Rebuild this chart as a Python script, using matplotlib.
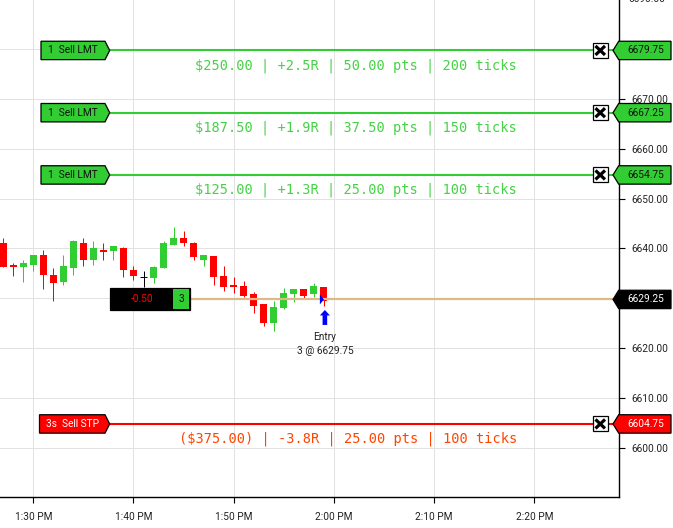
import matplotlib
matplotlib.use('Agg')
import matplotlib.pyplot as plt
from matplotlib.patches import Polygon, Rectangle
from matplotlib.transforms import IdentityTransform

plt.rcParams['font.family'] = ['Roboto', 'DejaVu Sans']

# minutes after 1:00 PM
minutes = list(range(27, 60))
opens = [6641.0, 6636.75, 6636.25, 6636.75, 6638.75, 6634.75, 6633.25, 6636.0, 6641.0, 6637.75, 6639.75,
         6639.5, 6640.0, 6635.75, 6634.25, 6634.0, 6636.0, 6640.75, 6642.0, 6641.0, 6637.75, 6638.5,
         6634.5, 6632.75, 6632.5, 6630.75, 6628.75, 6625.0, 6628.0, 6630.75, 6631.75, 6630.75, 6632.25]
highs = [6642.0, 6637.0, 6637.75, 6638.75, 6639.75, 6636.0, 6638.75, 6641.75, 6642.0, 6641.5, 6641.0,
         6640.5, 6640.25, 6636.5, 6635.5, 6636.5, 6641.5, 6644.25, 6643.5, 6641.25, 6638.75, 6638.5,
         6636.5, 6634.25, 6633.5, 6631.25, 6628.75, 6629.5, 6632.0, 6631.75, 6631.75, 6633.0, 6632.25]
lows = [6636.25, 6634.5, 6633.25, 6635.5, 6631.75, 6629.5, 6632.75, 6634.75, 6636.5, 6636.75, 6637.75,
        6637.75, 6634.25, 6633.75, 6632.25, 6633.0, 6636.0, 6640.75, 6640.5, 6637.75, 6636.5, 6632.75,
        6631.5, 6631.0, 6630.25, 6627.0, 6624.5, 6623.5, 6627.75, 6629.25, 6629.75, 6630.25, 6628.5]
closes = [6636.25, 6636.25, 6637.0, 6638.75, 6634.75, 6633.0, 6636.5, 6641.5, 6637.75, 6640.0, 6639.25,
          6640.5, 6635.75, 6634.5, 6634.25, 6636.25, 6641.0, 6642.0, 6641.0, 6638.25, 6638.75, 6634.25,
          6632.25, 6632.25, 6630.5, 6628.5, 6625.0, 6628.25, 6631.0, 6631.75, 6630.5, 6632.5, 6629.5]

x_ticks = [30, 40, 50, 60, 70, 80]
x_labels = ['1:30 PM', '1:40 PM', '1:50 PM', '2:00 PM', '2:10 PM', '2:20 PM']
y_ticks = [6600, 6610, 6620, 6630, 6640, 6650, 6660, 6670, 6680]
# 6630 and 6680 sit under the price tags
y_labels = ['6600.00', '6610.00', '6620.00', '', '6640.00', '6650.00', '6660.00', '6670.00', '']

target_prices = [6679.75, 6667.25, 6654.75]
target_names = ['1  Sell LMT', '1  Sell LMT', '1  Sell LMT']
target_labels = ['$250.00 | +2.5R | 50.00 pts | 200 ticks',
                 '$187.50 | +1.9R | 37.50 pts | 150 ticks',
                 '$125.00 | +1.3R | 25.00 pts | 100 ticks']
stop_price = 6604.75
stop_name = '3s  Sell STP'
stop_label = '($375.00) | -3.8R | 25.00 pts | 100 ticks'
entry_price = 6629.75
position_tag = '6629.25'
pnl_text = '-0.50'
qty_text = '3'
entry_minute = 59

GREEN = '#32cd32'
RED = '#ff0000'
TAN = '#deb887'
W, H = 673, 528
FS = 7.3

fig = plt.figure(figsize=(W / 100, H / 100), dpi=100)
ax = fig.add_axes([0, 31 / H, 619 / W, 497 / H])
ax.set_xlim(26.68, 88.45)
ax.set_ylim(6590.08, 6689.88)
for s in ['left', 'top']:
    ax.spines[s].set_visible(False)
for s in ['right', 'bottom']:
    ax.spines[s].set_linewidth(1.0)

ax.yaxis.tick_right()
ax.set_xticks(x_ticks, x_labels)
ax.set_yticks(y_ticks, y_labels)
ax.tick_params(axis='both', length=4, width=0.8, labelsize=FS, labelcolor='#222222')
ax.tick_params(axis='x', pad=7)
ax.tick_params(axis='y', pad=5)
ax.grid(True, color='#e2e2e2', linewidth=0.72)
ax.set_axisbelow(True)


def cy(price):
    return ax.transData.transform((0, price))[1]


def cx(minute):
    return ax.transData.transform((minute, 0))[0]


def px_patch(points, **kw):
    p = Polygon(points, closed=True, transform=IdentityTransform(), clip_on=False, **kw)
    ax.add_patch(p)
    return p


def px_text(x, y, s, **kw):
    ax.text(x, y, s, transform=IdentityTransform(), clip_on=False, va='center', zorder=8, **kw)


def px_line(xs, ys, color, lw, z=4):
    ax.plot(xs, ys, color=color, lw=lw, transform=IdentityTransform(), clip_on=False, zorder=z,
            solid_capstyle='butt')


# candles
for m, o, h, l, c in zip(minutes, opens, highs, lows, closes):
    color = GREEN if c > o else RED if c < o else 'black'
    ax.plot([m, m], [l, h], color=color, lw=0.72, zorder=3, solid_capstyle='butt', snap=True)
    if c == o:
        ax.plot([m - 0.35, m + 0.35], [o, o], color=color, lw=0.72, zorder=3, solid_capstyle='butt', snap=True)
    else:
        ax.bar(m, abs(c - o), bottom=min(o, c), width=0.7, color=color, linewidth=0, zorder=3)


def right_tag(price, text, fill, color):
    y = cy(price)
    px_patch([(613, y), (618.7, y + 9.2), (671, y + 9.2), (671, y - 9.2), (618.7, y - 9.2)],
             facecolor=fill, edgecolor='black', linewidth=0.9, zorder=6)
    px_text(646, y, text, color=color, fontsize=FS, ha='center')


def close_box(y):
    ax.add_patch(Rectangle((592.5, y - 7.5), 15.5, 15, transform=IdentityTransform(), clip_on=False,
                           facecolor='white', edgecolor='black', linewidth=0.9, zorder=6))
    px_line([595.5, 605], [y - 4.5, y + 4.5], 'black', 2.3, 7)
    px_line([595.5, 605], [y + 4.5, y - 4.5], 'black', 2.3, 7)


def order_row(price, name, label, color, tcolor, name_color, left, name_x, label_right):
    y = cy(price)
    px_line([109, 613], [y, y], color, 1.5)
    px_patch([(left, y + 9.2), (105, y + 9.2), (109.7, y), (105, y - 9.2), (left, y - 9.2)],
             facecolor=color, edgecolor='black', linewidth=0.9, zorder=6)
    px_text(name_x, y, name, color=name_color, fontsize=FS, ha='left')
    close_box(y)
    right_tag(price, f'{price:.2f}', color, 'white' if color == RED else '#111111')
    px_text(label_right, y - 15, label, color=tcolor, fontsize=9.85, ha='right', family='DejaVu Sans Mono')


for price, name, label in zip(target_prices, target_names, target_labels):
    order_row(price, name, label, GREEN, '#46d246', '#111111', 41, 48, 517)
order_row(stop_price, stop_name, stop_label, RED, '#ff4500', 'white', 39.5, 46, 517)

# position line and pnl box
yp = cy(entry_price)
px_line([190, 613], [yp, yp], TAN, 1.6)
ax.add_patch(Rectangle((110, yp - 11), 80, 22, transform=IdentityTransform(), clip_on=False,
                       facecolor='black', edgecolor='black', linewidth=0.9, zorder=6))
ax.add_patch(Rectangle((173, yp - 10), 16.3, 20, transform=IdentityTransform(), clip_on=False,
                       facecolor=GREEN, edgecolor='none', zorder=7))
px_text(141.7, yp, pnl_text, color=RED, fontsize=FS, ha='center')
px_text(181, yp, qty_text, color='#111111', fontsize=FS, ha='center')
right_tag(entry_price, position_tag, 'black', 'white')

# entry marker
xe = cx(entry_minute) + 1
px_patch([(xe - 5, yp + 5), (xe - 5, yp - 5), (xe - 1, yp)], facecolor='#0000ff', edgecolor='none', zorder=5)
ya = yp - 10.5
px_patch([(xe, ya), (xe + 5, ya - 5.5), (xe + 2.3, ya - 5.5), (xe + 2.3, ya - 15), (xe - 2.3, ya - 15),
          (xe - 2.3, ya - 5.5), (xe - 5, ya - 5.5)], facecolor='#0000ff', edgecolor='none', zorder=5)
px_text(xe, yp - 37.5, 'Entry', color='#222222', fontsize=FS, ha='center')
px_text(xe, yp - 51.5, f'{qty_text} @ {entry_price:.2f}', color='#222222', fontsize=FS, ha='center')

# top label is cut by the picture edge
px_text(628.3, cy(6690), '6690.00', color='#222222', fontsize=FS, ha='left')

fig.savefig('out.png', dpi=100)
